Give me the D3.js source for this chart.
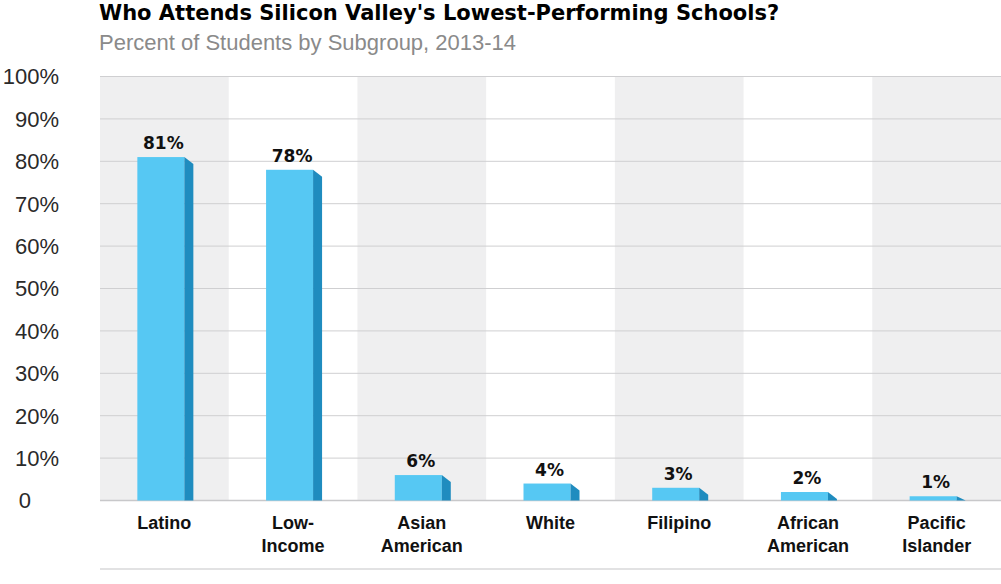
<!DOCTYPE html>
<html>
<head>
<meta charset="utf-8">
<script src="https://cdn.jsdelivr.net/npm/d3@7"></script>
<style>
  body { margin: 0; background: #fff; }
  svg { display: block; font-family: "Liberation Sans", Arial, sans-serif; }
</style>
</head>
<body>
<div id="chart"></div>
<script>
const categories = ["Latino", "Low-Income", "Asian American", "White", "Filipino", "African American", "Pacific Islander"];
const labelLines = [["Latino"], ["Low-", "Income"], ["Asian", "American"], ["White"], ["Filipino"], ["African", "American"], ["Pacific", "Islander"]];
const values = [81, 78, 6, 4, 3, 2, 1];
const yTicks = [0, 10, 20, 30, 40, 50, 60, 70, 80, 90, 100];

const width = 1001, height = 584;
const plot = { left: 100, right: 1001, top: 76.5, bottom: 500.5 };

const svg = d3.select("#chart").append("svg")
  .attr("width", width)
  .attr("height", height);

const x = d3.scaleBand().domain(categories).range([plot.left, plot.right]).padding(0);
const y = d3.scaleLinear().domain([0, 100]).range([plot.bottom, plot.top]);

// alternating grey columns
svg.selectAll(".band")
  .data(categories.filter((d, i) => i % 2 === 0))
  .enter().append("rect")
  .attr("x", d => x(d))
  .attr("y", y(100))
  .attr("width", x.bandwidth())
  .attr("height", y(0) - y(100))
  .attr("fill", "#efeff0");

// gridlines
svg.selectAll(".grid")
  .data(yTicks.filter(d => d > 0))
  .enter().append("line")
  .attr("x1", plot.left).attr("x2", plot.right)
  .attr("y1", d => y(d)).attr("y2", d => y(d))
  .attr("stroke", "#cfcfd1").attr("stroke-width", 1);

// baseline
svg.append("line")
  .attr("x1", plot.left).attr("x2", plot.right)
  .attr("y1", y(0)).attr("y2", y(0))
  .attr("stroke", "#c8c8ca").attr("stroke-width", 1.5);

// y labels
svg.selectAll(".ytick")
  .data(yTicks)
  .enter().append("text")
  .attr("x", d => d === 0 ? 31 : 59)
  .attr("y", d => y(d))
  .attr("dy", "0.36em")
  .attr("text-anchor", "end")
  .attr("font-size", 22)
  .attr("fill", "#2a2a2a")
  .text(d => d === 0 ? "0" : d + "%");

// bars: front face + darker side
const frontW = 47, sideW = 9, slant = 7;
const bars = svg.selectAll(".bar")
  .data(categories.map((c, i) => ({ cat: c, v: values[i] })))
  .enter().append("g");

bars.append("rect")
  .attr("x", d => x(d.cat) + x.bandwidth() / 2 - 27)
  .attr("y", d => y(d.v))
  .attr("width", frontW)
  .attr("height", d => y(0) - y(d.v))
  .attr("fill", "#56c8f3");

bars.append("path")
  .attr("fill", "#1f8cbf")
  .attr("d", d => {
    const x0 = x(d.cat) + x.bandwidth() / 2 - 27 + frontW;
    const t = y(d.v), b = y(0);
    const t2 = Math.min(t + slant, b);
    return `M${x0},${t} L${x0 + sideW},${t2} L${x0 + sideW},${b} L${x0},${b} Z`;
  });

bars.append("text")
  .attr("x", d => x(d.cat) + x.bandwidth() / 2 - 1)
  .attr("y", d => y(d.v) - 8)
  .attr("text-anchor", "middle")
  .attr("font-family", "'DejaVu Sans', sans-serif")
  .attr("font-size", 17)
  .attr("font-weight", "bold")
  .attr("fill", "#111")
  .text(d => d.v + "%");

// category labels
const catLabels = svg.selectAll(".cat")
  .data(categories.map((c, i) => ({ cat: c, lines: labelLines[i] })))
  .enter().append("text")
  .attr("x", d => x(d.cat) + x.bandwidth() / 2)
  .attr("y", 529)
  .attr("text-anchor", "middle")
  .attr("font-size", 18)
  .attr("font-weight", "bold")
  .attr("fill", "#111");

catLabels.selectAll("tspan")
  .data(d => d.lines)
  .enter().append("tspan")
  .attr("x", function() { return d3.select(this.parentNode).attr("x"); })
  .attr("dy", (d, i) => i === 0 ? 0 : 23)
  .text(d => d);

// bottom rule
svg.append("line")
  .attr("x1", plot.left).attr("x2", plot.right)
  .attr("y1", 569).attr("y2", 569)
  .attr("stroke", "#d8d8da").attr("stroke-width", 1.5);

// titles
svg.append("text")
  .attr("x", 99).attr("y", 20)
  .attr("font-family", "'DejaVu Sans', sans-serif")
  .attr("font-size", 21)
  .attr("font-weight", "bold")
  .attr("fill", "#000")
  .text("Who Attends Silicon Valley's Lowest-Performing Schools?");

svg.append("text")
  .attr("x", 99).attr("y", 50)
  .attr("font-size", 22)
  .attr("fill", "#8a8a8a")
  .text("Percent of Students by Subgroup, 2013-14");
</script>
</body>
</html>
